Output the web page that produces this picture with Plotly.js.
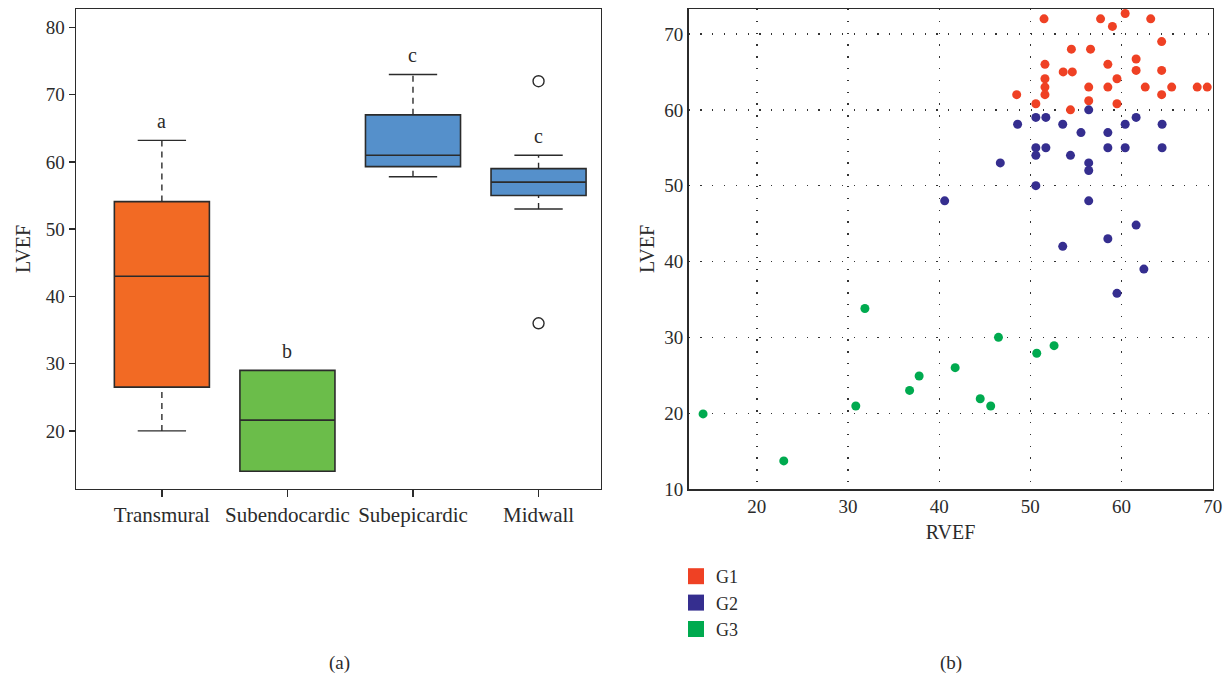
<!DOCTYPE html>
<html><head><meta charset="utf-8">
<script src="https://cdn.plot.ly/plotly-3.0.1.min.js"></script>
<style>html,body{margin:0;padding:0;background:#fff}#chart{width:1229px;height:680px}</style>
</head><body><div id="chart"></div>
<script>
// ---- Panel (a): box plot summary values ----
const categories = ['Transmural', 'Subendocardic', 'Subepicardic', 'Midwall'];
const whiskerLow = [20, 14, 57.8, 53];
const q1 = [26.5, 14, 59.3, 55];
const median = [43, 21.6, 61, 57];
const q3 = [54.1, 29, 67, 59];
const whiskerHigh = [63.2, 29, 73, 61];
const groupLetters = ['a', 'b', 'c', 'c'];
const outlierCategory = ['Midwall', 'Midwall'];
const outlierValues = [72, 36];
const boxColors = ['#F26A24', '#6BBD4A', '#5590CB', '#5590CB'];

// ---- Panel (b): scatter RVEF vs LVEF ----
const groupNames = ['G1', 'G2', 'G3'];
const groupColors = ['#EF4124', '#352E8F', '#00AA4F'];
const g1RVEF = [51.5, 57.7, 59, 60.4, 63.2, 64.4, 54.5, 56.6, 51.6, 61.6, 58.5, 53.6, 54.6, 61.6, 64.4, 51.6, 59.5, 51.6, 56.4, 58.5, 62.6, 65.5, 68.3, 69.4, 48.5, 51.6, 64.4, 50.6, 56.4, 59.5, 54.4];
const g1LVEF = [72, 72, 71, 72.7, 72, 69, 68, 68, 66, 66.7, 66, 65, 65, 65.2, 65.2, 64.1, 64.1, 63, 63, 63, 63, 63, 63, 63, 62, 62, 62, 60.8, 61.2, 60.8, 60];
const g2RVEF = [56.4, 50.6, 51.7, 61.6, 48.6, 53.55, 60.4, 64.45, 55.55, 58.5, 50.6, 51.7, 58.5, 60.4, 64.45, 50.6, 54.4, 46.7, 56.4, 56.4, 50.6, 40.6, 56.4, 61.6, 58.5, 53.55, 62.45, 59.5];
const g2LVEF = [60, 59, 59, 59, 58.1, 58.1, 58.1, 58.1, 57, 57, 55, 55, 55, 55, 55, 54, 54, 53, 53, 52, 50, 48, 48, 44.8, 43, 42, 39, 35.8];
const g3RVEF = [31.85, 46.5, 52.6, 50.7, 41.75, 37.8, 36.75, 44.5, 45.65, 30.85, 14.1, 22.95];
const g3LVEF = [33.8, 30, 28.9, 27.9, 26, 24.9, 23, 21.9, 20.95, 20.95, 19.9, 13.7];

const FONT = 'Liberation Serif, DejaVu Serif, serif';
const INK = '#2b2b2b';
const idx = categories.map((c, i) => i);
const boxW = 0.757, capW = 0.385;

const traces = [];
// boxes
idx.forEach(i => {
  traces.push({
    type: 'box', x: [i], q1: [q1[i]], median: [median[i]], q3: [q3[i]],
    lowerfence: [q1[i]], upperfence: [q3[i]], width: boxW,
    fillcolor: boxColors[i], line: {color: INK, width: 1.6},
    xaxis: 'x', yaxis: 'y', showlegend: false, hoverinfo: 'skip'
  });
});
// whiskers (dashed) and caps (solid)
idx.forEach(i => {
  if (whiskerHigh[i] > q3[i]) {
    traces.push({type: 'scatter', mode: 'lines', x: [i, i], y: [q3[i], whiskerHigh[i]],
      line: {color: INK, width: 1.4, dash: '6px,5px'}, showlegend: false, hoverinfo: 'skip'});
    traces.push({type: 'scatter', mode: 'lines', x: [i - capW / 2, i + capW / 2], y: [whiskerHigh[i], whiskerHigh[i]],
      line: {color: INK, width: 1.4}, showlegend: false, hoverinfo: 'skip'});
  }
  if (whiskerLow[i] < q1[i]) {
    traces.push({type: 'scatter', mode: 'lines', x: [i, i], y: [whiskerLow[i], q1[i]],
      line: {color: INK, width: 1.4, dash: '6px,5px'}, showlegend: false, hoverinfo: 'skip'});
    traces.push({type: 'scatter', mode: 'lines', x: [i - capW / 2, i + capW / 2], y: [whiskerLow[i], whiskerLow[i]],
      line: {color: INK, width: 1.4}, showlegend: false, hoverinfo: 'skip'});
  }
});
// outliers
traces.push({type: 'scatter', mode: 'markers', x: outlierCategory.map(c => categories.indexOf(c)), y: outlierValues,
  marker: {symbol: 'circle-open', size: 11, color: INK, line: {width: 1.4, color: INK}},
  showlegend: false, hoverinfo: 'skip'});

// scatter groups
const gx = [g1RVEF, g2RVEF, g3RVEF], gy = [g1LVEF, g2LVEF, g3LVEF];
groupNames.forEach((g, k) => {
  traces.push({type: 'scatter', mode: 'markers', x: gx[k], y: gy[k], xaxis: 'x2', yaxis: 'y2',
    marker: {color: groupColors[k], size: 9}, name: g, showlegend: false, hoverinfo: 'skip'});
});
// legend entries
groupNames.forEach((g, k) => {
  traces.push({type: 'scatter', mode: 'markers', x: [null], y: [null], xaxis: 'x2', yaxis: 'y2',
    marker: {color: groupColors[k], size: 16, symbol: 'square'}, name: g, showlegend: true});
});

const annotations = idx.map(i => ({
  xref: 'x', yref: 'y', x: i, y: whiskerHigh[i] + 2.9, text: groupLetters[i], showarrow: false,
  font: {family: FONT, size: 20, color: INK}, yanchor: 'middle'
}));
annotations.push({xref: 'paper', yref: 'paper', x: 339 / 1229, y: 1 - 663 / 680, text: '(a)', showarrow: false,
  font: {family: FONT, size: 19, color: INK}, xanchor: 'center', yanchor: 'middle'});
annotations.push({xref: 'paper', yref: 'paper', x: 951 / 1229, y: 1 - 663 / 680, text: '(b)', showarrow: false,
  font: {family: FONT, size: 19, color: INK}, xanchor: 'center', yanchor: 'middle'});

const tickFont = {family: FONT, size: 19, color: INK};
const catFont = {family: FONT, size: 21, color: INK};
const GRID = {showgrid: true, griddash: '1.3px,10.5px', gridcolor: '#333', gridwidth: 1.3};
const layout = {
  width: 1229, height: 680,
  margin: {l: 0, r: 0, t: 0, b: 0},
  paper_bgcolor: '#fff', plot_bgcolor: '#fff',
  font: {family: FONT, color: INK},
  showlegend: true,
  legend: {x: 676 / 1229, y: 1 - 558 / 680, xanchor: 'left', yanchor: 'top', font: {family: FONT, size: 18, color: INK},
    bgcolor: 'rgba(0,0,0,0)', tracegroupgap: 0},
  xaxis: {domain: [76 / 1229, 600.7 / 1229], range: [-0.684, 3.495], tickvals: idx, ticktext: categories,
    showgrid: false, zeroline: false, showline: true, mirror: true, linecolor: INK, linewidth: 1.5,
    ticks: 'outside', ticklen: 7, tickwidth: 1.4, tickcolor: INK, tickfont: catFont, fixedrange: true},
  yaxis: {domain: [1 - 488.7 / 680, 1 - 9.3 / 680], range: [11.4, 82.7], tickvals: [20, 30, 40, 50, 60, 70, 80],
    showgrid: false, zeroline: false, showline: true, mirror: true, linecolor: INK, linewidth: 1.5,
    ticks: 'outside', ticklen: 6, tickwidth: 1.4, tickcolor: INK, tickfont: tickFont,
    title: {text: 'LVEF', font: {family: FONT, size: 20, color: INK}, standoff: 9}},
  xaxis2: Object.assign({domain: [688.5 / 1229, 1212.7 / 1229], range: [12.5, 70], tickvals: [20, 30, 40, 50, 60, 70], anchor: 'y2',
    zeroline: false, showline: true, mirror: true, linecolor: INK, linewidth: 1.5,
    ticks: '', tickfont: tickFont,
    title: {text: 'RVEF', font: {family: FONT, size: 20, color: INK}, standoff: 8}}, GRID),
  yaxis2: Object.assign({domain: [1 - 489 / 680, 1 - 9 / 680], range: [10, 73.3], tickvals: [10, 20, 30, 40, 50, 60, 70], anchor: 'x2',
    zeroline: false, showline: true, mirror: true, linecolor: INK, linewidth: 1.5,
    ticks: '', tickfont: tickFont,
    title: {text: 'LVEF', font: {family: FONT, size: 20, color: INK}, standoff: 4}}, GRID),
  annotations: annotations
};
Plotly.newPlot('chart', traces, layout, {displayModeBar: false, staticPlot: true});
</script>
</body></html>
